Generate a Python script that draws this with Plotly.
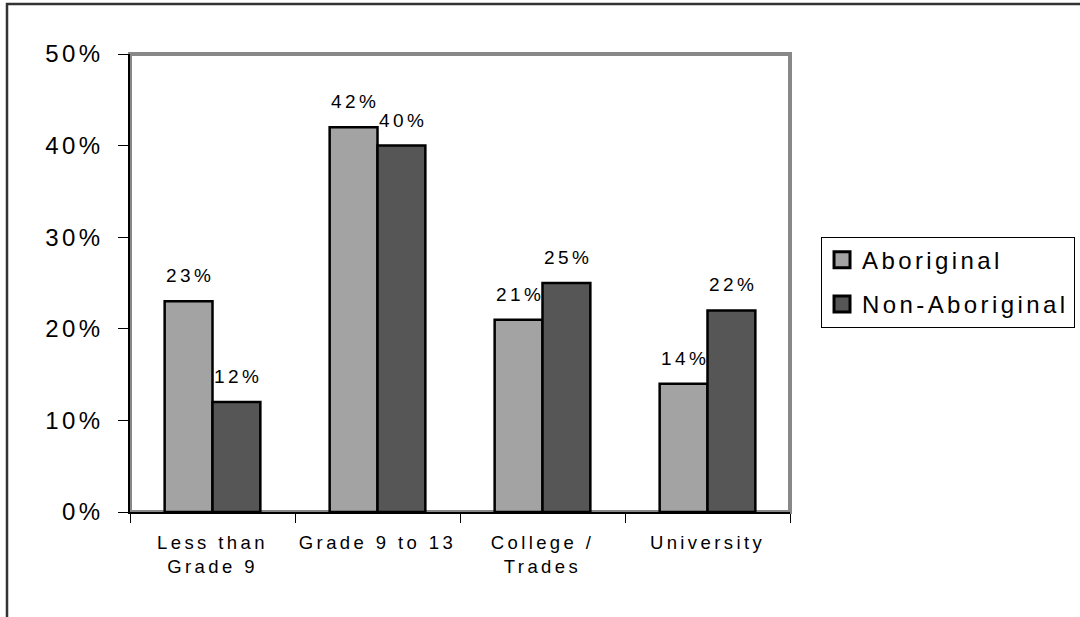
import plotly.graph_objects as go

categories = ["Less than<br>Grade 9", "Grade 9 to 13", "College /<br>Trades", "University"]
aboriginal = [0.23, 0.42, 0.21, 0.14]
non_aboriginal = [0.12, 0.40, 0.25, 0.22]
series_names = ["Aboriginal", "Non-Aboriginal"]
y_ticks = [0, 0.1, 0.2, 0.3, 0.4, 0.5]

FONT = "Liberation Sans, Arial, sans-serif"
C_AB = "#a3a3a3"
C_NON = "#565656"
SP = "letter-spacing:3.4px"


def spaced(s):
    return "<br>".join(f'<span style="{SP}">{part}</span>' for part in s.split("<br>"))


fig = go.Figure()
for name, vals, col in ((series_names[0], aboriginal, C_AB), (series_names[1], non_aboriginal, C_NON)):
    fig.add_trace(go.Bar(name=name, x=categories, y=vals, showlegend=False,
                         marker=dict(color=col, line=dict(color="black", width=2.5))))
# legend entries (no data drawn)
for i, (name, col) in enumerate(((series_names[0], C_AB), (series_names[1], C_NON))):
    fig.add_trace(go.Scatter(name=spaced(name), x=[None], y=[None], mode="markers",
                             legendgroup=f"g{i}",
                             marker=dict(symbol="square", size=16, color=col,
                                         line=dict(color="black", width=3))))

annotations = []
for vals, shift in ((aboriginal, -24), (non_aboriginal, 24)):
    for c, v in zip(categories, vals):
        annotations.append(dict(x=c, y=v, xref="x", yref="y", text=spaced(f"{round(v*100)}%"),
                                showarrow=False, yanchor="bottom", xshift=shift + 1.5, yshift=13,
                                font=dict(family=FONT, size=19, color="black")))

fig.update_layout(
    width=1080, height=617,
    margin=dict(l=130, r=290, t=54, b=105, autoexpand=False),
    paper_bgcolor="white", plot_bgcolor="white",
    barmode="group", bargap=0.42, bargroupgap=0,
    font=dict(family=FONT, color="black"),
    annotations=annotations,
    legend=dict(x=1.047, y=0.601, xanchor="left", yanchor="top",
                bordercolor="black", borderwidth=1, bgcolor="white",
                font=dict(family=FONT, size=24, color="black"),
                tracegroupgap=10, itemsizing="trace"),
    shapes=[
        dict(type="rect", xref="paper", yref="paper", x0=0, x1=1, y0=0, y1=1,
             line=dict(color="#888888", width=4), layer="below"),
        dict(type="rect", xref="paper", yref="paper",
             x0=(7 - 130) / 660, x1=1.6, y0=-0.5, y1=(512 - 4) / 458,
             line=dict(color="#333333", width=2.5), layer="below"),
    ],
)
fig.update_xaxes(showline=True, linecolor="black", linewidth=1.5, ticks="outside",
                 tickson="boundaries", ticklen=9, tickcolor="black", tickwidth=1,
                 tickvals=categories, ticktext=[spaced(c) for c in categories],
                 ticklabelstandoff=13, tickangle=0, automargin=False,
                 tickfont=dict(family=FONT, size=18.5, color="black"), showgrid=False)
fig.update_yaxes(range=[0, 0.5], tickvals=y_ticks,
                 ticktext=[spaced(f"{round(t*100)}%") for t in y_ticks], showline=True,
                 linecolor="black", linewidth=1.5, ticks="outside", ticklen=10,
                 tickcolor="black", tickwidth=1, showgrid=False, zeroline=False,
                 ticklabelstandoff=10, automargin=False,
                 tickfont=dict(family=FONT, size=24, color="black"))

fig.write_html("out.html", config={"displayModeBar": False},
               post_script="document.body.style.margin='0';")
